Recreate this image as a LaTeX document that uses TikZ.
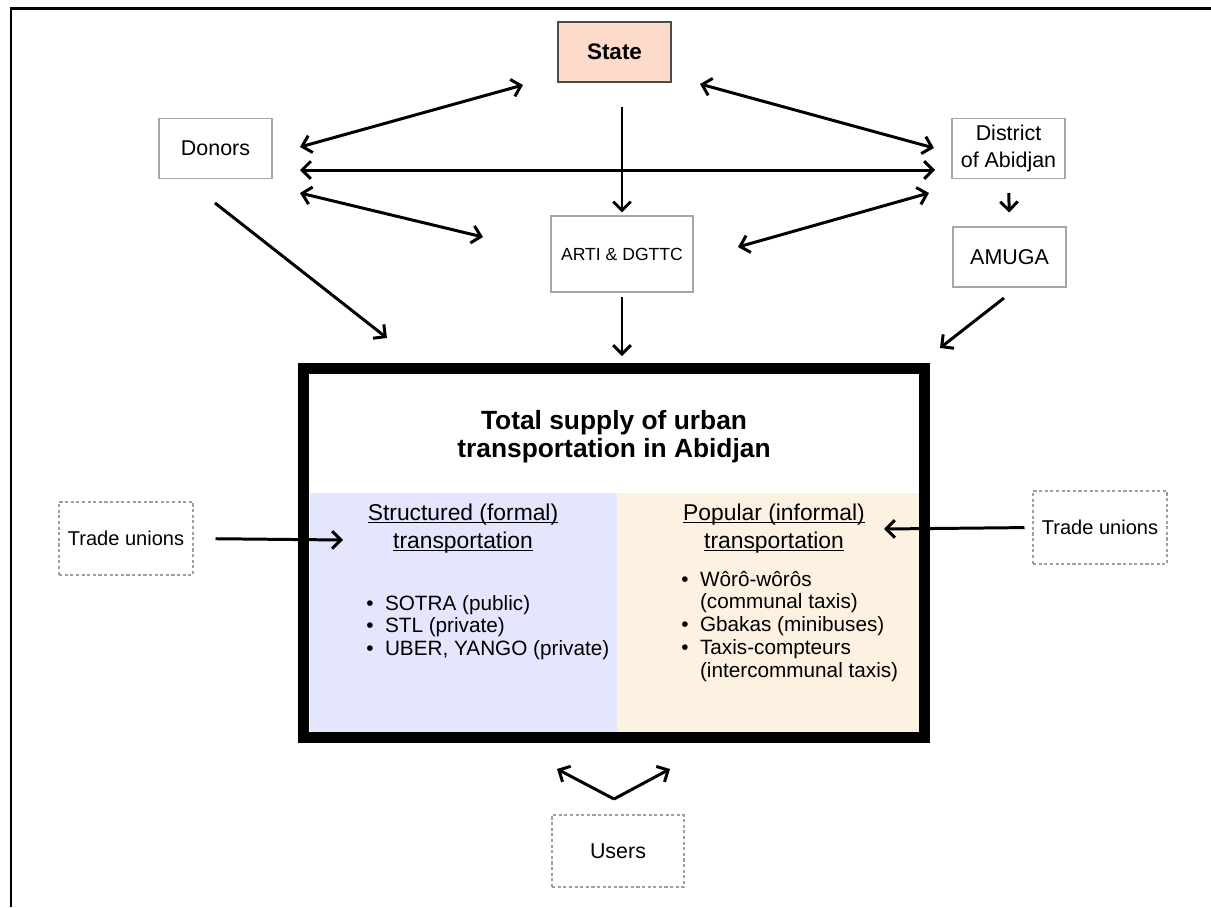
\documentclass[tikz,border=0pt]{standalone}
\usepackage{fontspec}
\setmainfont{Liberation Sans}
\usetikzlibrary{arrows.meta}
\newcommand{\ulined}[1]{\underline{\smash{#1}}}
\definecolor{statefill}{RGB}{252,219,203}
\definecolor{formalfill}{RGB}{227,230,252}
\definecolor{informalfill}{RGB}{253,241,226}
\tikzset{
	actor/.style={draw=gray!70, line width=0.6pt, minimum width=2.26cm, minimum height=1.2cm, inner sep=0pt, align=center, font=\fontsize{12.2}{15.4}\selectfont},
	outsider/.style={draw=gray!75, dash pattern=on 1.8pt off 1.4pt, line width=0.6pt, minimum width=2.68cm, minimum height=1.46cm, inner sep=0pt, font=\fontsize{11.4}{13}\selectfont},
	link/.style={line width=1.7pt}
}

\begin{document}
\begin{tikzpicture}[x=0.02cm,y=-0.02cm,>={Straight Barb[length=5pt,width=10pt]}]
	\useasboundingbox (0,0) rectangle (1211,907);
	\draw[line width=1.4pt] (11,907) -- (11,8.5) -- (1211,8.5);
	\fill[formalfill] (310,493) rectangle (617,732);
	\fill[informalfill] (617,493) rectangle (919,732);
	\node[draw, line width=6.2pt, minimum width=12.42cm, minimum height=7.38cm, inner sep=0pt] (supply) at (614,553) {};
	\node[actor, draw=gray!60!black, fill=statefill, font=\bfseries\fontsize{12.8}{15}\selectfont] (state) at (614.5,52) {State};
	\node[actor] (donors) at (215.5,148.5) {Donors};
	\node[actor] (district) at (1008.5,148.5) {District\\of Abidjan};
	\node[actor, minimum width=2.84cm, minimum height=1.52cm, font=\fontsize{10}{12}\selectfont] (arti) at (622,254) {ARTI \& DGTTC};
	\node[actor] (amuga) at (1009.5,257) {AMUGA};
	\node[outsider] (unionsL) at (126,538.5) {Trade unions};
	\node[outsider] (unionsR) at (1100,527.5) {Trade unions};
	\node[outsider, minimum width=2.64cm, minimum height=1.44cm, font=\fontsize{12.2}{14}\selectfont] (users) at (618,851) {Users};
	\node[align=center, font=\bfseries\fontsize{15}{16}\selectfont] (title) at (614,437) {Total supply of urban\\transportation in Abidjan};
	\node[align=center, font=\fontsize{13}{16}\selectfont] (formal) at (463,536) {\ulined{Structured (formal)}\\\ulined{transportation}};
	\node[align=center, font=\fontsize{13}{16}\selectfont] (informal) at (774,536) {\ulined{Popular (informal)}\\\ulined{transportation}};
	\node[anchor=base west, inner sep=0pt, font=\fontsize{11.8}{13}\selectfont] (formallist) at (366,610) {\begin{tabular}[t]{@{}l@{\hspace{6.5pt}}l@{}}
		\textbullet & SOTRA (public)\\
		\textbullet & STL (private)\\
		\textbullet & UBER, YANGO (private)
	\end{tabular}};
	\node[anchor=base west, inner sep=0pt, font=\fontsize{11.8}{13}\selectfont] (informallist) at (681,586) {\begin{tabular}[t]{@{}l@{\hspace{6.5pt}}l@{}}
		\textbullet & Wôrô-wôrôs\\
		& (communal taxis)\\
		\textbullet & Gbakas (minibuses)\\
		\textbullet & Taxis-compteurs\\
		& (intercommunal taxis)
	\end{tabular}};
	\coordinate (d1) at (300,147);
	\coordinate (d2) at (300,170);
	\coordinate (d3) at (300,193);
	\coordinate (d4) at (215,203);
	\coordinate (s1) at (523,85);
	\coordinate (s2) at (700,84);
	\coordinate (c1) at (934,148);
	\coordinate (c2) at (935,170);
	\coordinate (c3) at (929,193);
	\coordinate (a1) at (483,237);
	\coordinate (a2) at (738,247);
	\coordinate (m1) at (387,338);
	\coordinate (m2) at (1004,298);
	\coordinate (m3) at (940,348);
	\coordinate (m4) at (343,540);
	\coordinate (m5) at (884,529);
	\coordinate (u0) at (614,799);
	\coordinate (u1) at (557,769);
	\coordinate (u2) at (670,769);
	\foreach \a/\b in {d1/s1,s2/c1,d2/c2,d3/a1,a2/c3}
		\draw[<->,link] (\a) -- (\b);
	\foreach \a/\b in {d4/m1,m2/m3,u0/u1,u0/u2}
		\draw[->,link] (\a) -- (\b);
	\draw[->,link,shorten <=0.48cm,shorten >=0.06cm] (state.south -| arti.north) -- (arti.north);
	\draw[->,link,shorten <=0.08cm,shorten >=0.14cm] (arti.south) -- (arti.south |- supply.north);
	\draw[->,link,shorten <=0.28cm,shorten >=0.28cm] (district.south) -- (amuga.north);
	\draw[->,link,shorten <=0.44cm] (unionsL.east) -- (m4);
	\draw[->,link,shorten <=0.16cm] (unionsR.west) -- (m5);
\end{tikzpicture}
\end{document}
